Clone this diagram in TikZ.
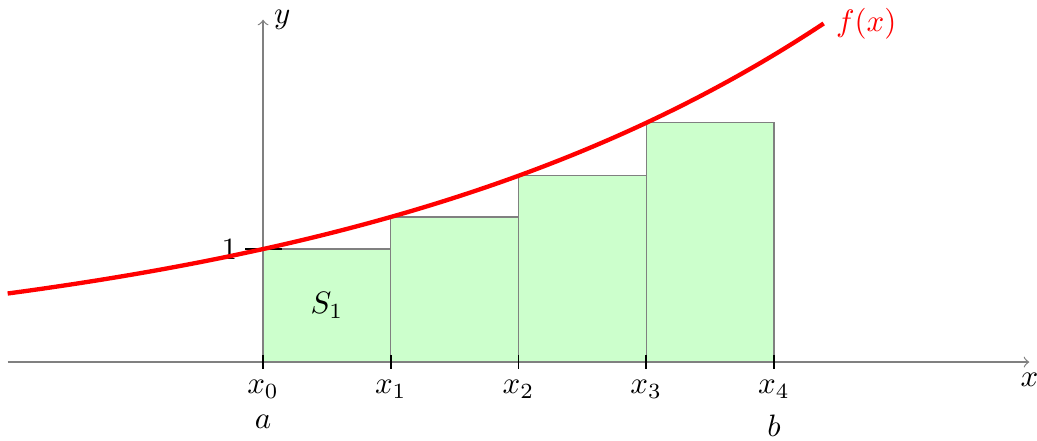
\documentclass[tikz,border=0pt]{standalone}
\usepackage{amsmath, amssymb}
\usepackage{tikz}
\usetikzlibrary{calc, positioning}
\definecolor{StripFill}{HTML}{CCFFCC}
\definecolor{AxisGray}{HTML}{808080}
\definecolor{CurveRed}{HTML}{FF0000}

\begin{document}
\begin{tikzpicture}[x=1.45cm, y=1.283cm, >=to, font=\normalsize,
    strip/.style={draw=AxisGray, fill=StripFill, line width=0.4pt},
    axisline/.style={->, draw=AxisGray, line width=0.4pt},
    tickmark/.style={draw=black, line width=0.5pt},
    curveline/.style={draw=CurveRed, line width=1.4pt}]
      \useasboundingbox (-2.06,-0.69) rectangle (6.06,3.204);

      % Strips under the curve
      \foreach \i in {0,1,2,3} {
        \draw[strip] (\i,0) rectangle ({\i+1},{exp(\i/4)});
      }

      % Axes
      \coordinate (xstart) at (-2,0);
      \coordinate (xend) at (6,0);
      \coordinate (origin) at (0,0);
      \coordinate (yend) at (0,3.03);
      \draw[axisline] (xstart) -- (xend) node[below] (xlabel) {$x$};
      \draw[axisline] (origin) -- (yend) node[right] (ylabel) {$y$};

      % Ticks and labels
      \draw[tickmark] (-0.14,1) -- (0.15,1) node[pos=0, left, xshift=1pt] (one) {$1$};
      \foreach \i in {0,1,2,3,4} {
        \draw[tickmark] (\i,0) ++(0,2.3pt) -- ++(0,-4.6pt) node[below] (lab\i) {$x_{\i}$};
      }
      \node[below=-1.8pt of lab0] (aleft) {$a$};
      \node[below=-1.8pt of lab4] (bright) {$b$};
      \node (area) at (0.5,0.5) {$S_1$};

      % Curve
      \draw[curveline] plot[domain=-2:4.39, samples=120, smooth] (\x,{exp(\x/4)})
        node[right, CurveRed] (flabel) {$f(x)$};
    \end{tikzpicture}
\end{document}
